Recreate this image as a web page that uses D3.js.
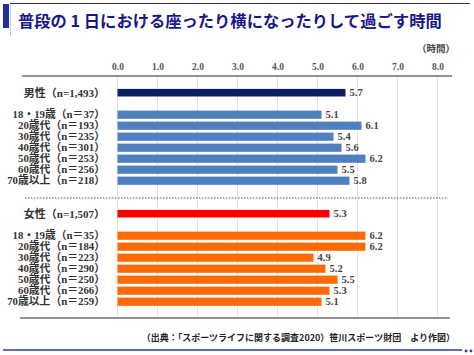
<!DOCTYPE html>
<html><head><meta charset="utf-8">
<script src="https://cdn.jsdelivr.net/npm/d3@7"></script>
<style>
html,body{margin:0;padding:0;background:#fff;}
svg{display:block;}
</style>
</head><body>
<svg id="c" width="474" height="355"></svg>
<script>
const title = "普段の 1 日における座ったり横になったりして過ごす時間";
const unitLabel = "（時間）";
const sourceText = "（出典：「スポーツライフに関する調査2020）笹川スポーツ財団　より作図）";
const ticks = [0,1,2,3,4,5,6,7,8];
const maleCategories = ["男性（n=1,493）","18・19歳（n＝37）","20歳代（n＝193）","30歳代（n＝235）","40歳代（n＝301）","50歳代（n＝253）","60歳代（n＝256）","70歳以上（n＝218）"];
const maleValues = [5.7,5.1,6.1,5.4,5.6,6.2,5.5,5.8];
const femaleCategories = ["女性（n=1,507）","18・19歳（n＝35）","20歳代（n＝184）","30歳代（n＝223）","40歳代（n＝290）","50歳代（n＝250）","60歳代（n＝266）","70歳以上（n＝259）"];
const femaleValues = [5.3,6.2,6.2,4.9,5.2,5.5,5.3,5.1];

const svg = d3.select("#c");
const serif = "'Liberation Serif','Noto Sans CJK JP',serif";
const cjk = "'Noto Sans CJK JP','Noto Sans',sans-serif";

// title frame
svg.append("rect").attr("x",3).attr("y",4).attr("width",6).attr("height",24).attr("fill","#1f2f9a");
svg.append("line").attr("x1",10).attr("x2",470).attr("y1",3.5).attr("y2",3.5).attr("stroke","#2a2a9a").attr("stroke-width",1.2);
svg.append("line").attr("x1",10.5).attr("x2",10.5).attr("y1",4).attr("y2",36).attr("stroke","#c8c8d8").attr("stroke-width",1);
svg.append("text").attr("x",18).attr("y",27).attr("font-family",cjk).attr("font-weight","bold")
  .attr("font-size",16.3).attr("fill","#18188a").text(title);

// bottom line & dots
svg.append("line").attr("x1",3).attr("x2",462).attr("y1",350).attr("y2",350).attr("stroke","#2a3f8f").attr("stroke-width",1.6);
[466,471].forEach(cx=>svg.append("circle").attr("cx",cx).attr("cy",351).attr("r",1.4).attr("fill","#2a3f8f"));

// scales
const x = d3.scaleLinear().domain([0,8]).range([117.5,437.5]);
const y = d3.scaleLinear().domain([0,19]).range([92.7,301.7]);

const rows = [];
maleCategories.forEach((c,i)=>rows.push({label:c,value:maleValues[i],idx:i===0?0:i+1,total:i===0,color:i===0?"#0b1f5c":"#4f7fc0"}));
femaleCategories.forEach((c,i)=>rows.push({label:c,value:femaleValues[i],idx:i===0?11:i+12,total:i===0,color:i===0?"#ff0000":"#ff6a06"}));

// grid
svg.append("g").selectAll("line").data(ticks).join("line")
  .attr("x1",d=>x(d)).attr("x2",d=>x(d)).attr("y1",76).attr("y2",318)
  .attr("stroke","#e2e2e2").attr("stroke-width",1);

// top axis
const axis = d3.axisTop(x).tickValues(ticks).tickFormat(d3.format(".1f")).tickSize(0).tickPadding(0);
const ag = svg.append("g").attr("transform","translate(0,70)").call(axis);
ag.select(".domain").remove();
ag.selectAll("text").attr("font-family",serif).attr("font-weight","bold").attr("font-size",9.5).attr("fill","#555").attr("dy","0");
svg.append("line").attr("x1",22).attr("x2",452).attr("y1",76).attr("y2",76).attr("stroke","#707070").attr("stroke-width",1.5);

// dotted separator
svg.append("line").attr("x1",25).attr("x2",447).attr("y1",198).attr("y2",198).attr("stroke","#555").attr("stroke-width",1).attr("stroke-dasharray","1.5,1.5");
// bottom axis line
svg.append("line").attr("x1",20).attr("x2",450).attr("y1",318).attr("y2",318).attr("stroke","#707070").attr("stroke-width",1.5);

// bars
const g = svg.append("g");
g.selectAll("rect").data(rows).join("rect")
  .attr("x",x(0)).attr("y",d=>y(d.idx)-(d.total?3.8:4.1))
  .attr("width",d=>x(d.value)-x(0)).attr("height",d=>d.total?7.6:8.2)
  .attr("fill",d=>d.color);

// value labels
g.selectAll("text.v").data(rows).join("text").attr("class","v")
  .attr("x",d=>x(d.value)+4).attr("y",d=>y(d.idx)).attr("dy","0.35em")
  .attr("font-family",serif).attr("font-weight","bold").attr("font-size",10.5).attr("fill","#444")
  .text(d=>d3.format(".1f")(d.value));

// category labels
g.selectAll("text.c").data(rows).join("text").attr("class","c")
  .attr("x",105).attr("y",d=>y(d.idx)).attr("dy","0.35em").attr("text-anchor","end")
  .attr("font-family",serif).attr("font-weight","bold").attr("font-size",d=>d.total?11:10.8).attr("fill","#333")
  .text(d=>d.label);

// unit
svg.append("text").attr("x",455).attr("y",52).attr("text-anchor","end").attr("font-family",cjk).attr("font-weight","bold")
  .attr("font-size",9.5).attr("fill","#444").text(unitLabel);

// source
svg.append("text").attr("x",455).attr("y",341).attr("text-anchor","end").attr("font-family",cjk).attr("font-weight","bold")
  .attr("font-size",9).attr("fill","#222").text(sourceText);
</script>
</body></html>
